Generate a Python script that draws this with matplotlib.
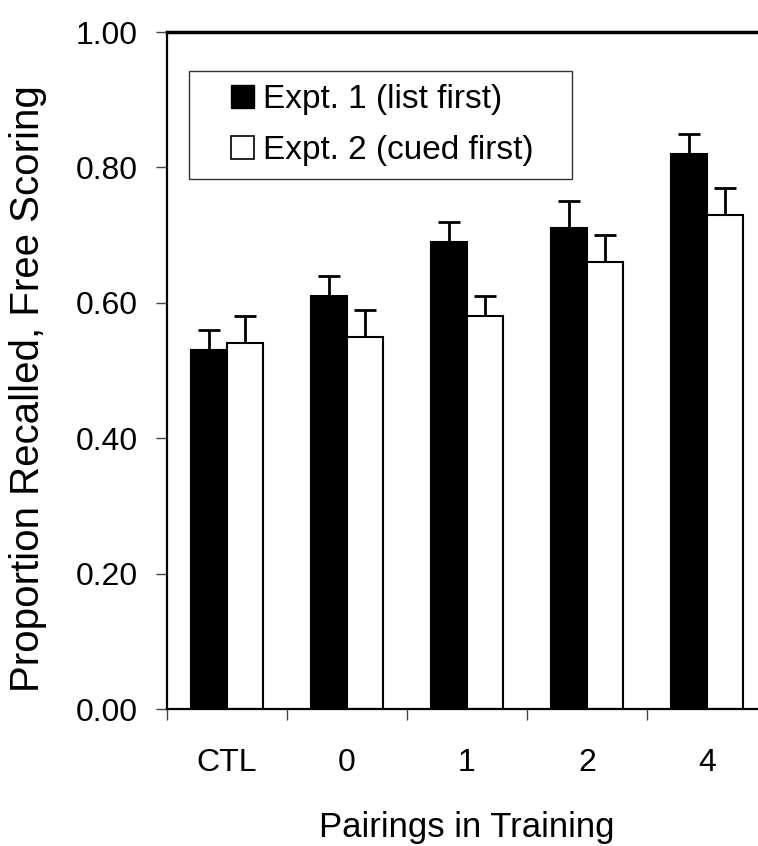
import numpy as np
import matplotlib
matplotlib.use("Agg")
import matplotlib.pyplot as plt
from matplotlib.patches import Patch, Rectangle

plt.rcParams["font.family"] = ["Liberation Sans", "DejaVu Sans"]

# data
categorias = ["CTL", "0", "1", "2", "4"]
expt1 = [0.53, 0.61, 0.69, 0.71, 0.82]
expt1_err = [0.03, 0.03, 0.03, 0.04, 0.03]
expt2 = [0.54, 0.55, 0.58, 0.66, 0.73]
expt2_err = [0.04, 0.04, 0.03, 0.04, 0.04]
nomes = ["Expt. 1 (list first)", "Expt. 2 (cued first)"]

W, H = 758, 846
fig = plt.figure(figsize=(W / 100, H / 100), dpi=100)
ax = fig.add_axes([167 / W, 1 - 709 / H, 600 / W, 677 / H])

x = np.arange(len(categorias))
w = 0.3

# barras com erro so para cima
ax.bar(x - w / 2, expt1, w, color="black", edgecolor="black", linewidth=1.5, zorder=2)
ax.bar(x + w / 2, expt2, w, color="white", edgecolor="black", linewidth=1.5, zorder=2)
ax.errorbar(x - w / 2, expt1, yerr=[np.zeros(5), expt1_err], fmt="none",
            ecolor="black", elinewidth=2, capsize=8, capthick=2, zorder=1)
ax.errorbar(x + w / 2, expt2, yerr=[np.zeros(5), expt2_err], fmt="none",
            ecolor="black", elinewidth=2, capsize=8, capthick=2, zorder=1)

ax.set_xlim(-0.5, 4.5)
ax.set_ylim(0, 1.0)
ax.set_yticks(np.arange(0, 1.01, 0.2))
ax.set_yticklabels([f"{v:.2f}" for v in np.arange(0, 1.01, 0.2)])

# ticks nas fronteiras, rotulos no centro
ax.set_xticks(np.arange(-0.5, 5, 1))
ax.set_xticklabels([])
ax.set_xticks(x, minor=True)
ax.set_xticklabels(categorias, minor=True)
ax.tick_params(axis="x", which="major", direction="out", length=8, width=1, color="#444444")
ax.tick_params(axis="x", which="minor", length=0, pad=28, labelsize=23)
ax.tick_params(axis="y", direction="out", length=8, width=1, color="#444444", pad=13, labelsize=23)

ax.spines["right"].set_visible(False)
ax.spines["left"].set_linewidth(1.6)
ax.spines["bottom"].set_linewidth(1.6)
ax.spines["top"].set_linewidth(2.5)

ax.set_ylabel("Proportion Recalled, Free Scoring", fontsize=29)
ax.yaxis.set_label_coords(-0.200, 0.474)
ax.set_xlabel("Pairings in Training", fontsize=25)
ax.xaxis.set_label_coords(0.5, -0.150)

# legenda: caixa desenhada a parte
fig.patches.append(Rectangle((189 / W, 1 - 179 / H), (572 - 189) / W, (179 - 71) / H,
                             transform=fig.transFigure, facecolor="white",
                             edgecolor="#333333", linewidth=1, zorder=5))
handles = [Patch(facecolor="black", edgecolor="black"),
           Patch(facecolor="white", edgecolor="black", linewidth=1.2)]
leg = fig.legend(handles, nomes, loc="upper left", bbox_to_anchor=(231 / W, 1 - 84 / H),
                 fontsize=24, frameon=False, handlelength=0.7, handleheight=0.7,
                 handletextpad=0.25, borderpad=0, labelspacing=0.6, borderaxespad=0)
leg.set_zorder(6)

fig.savefig("out.png", dpi=100)
